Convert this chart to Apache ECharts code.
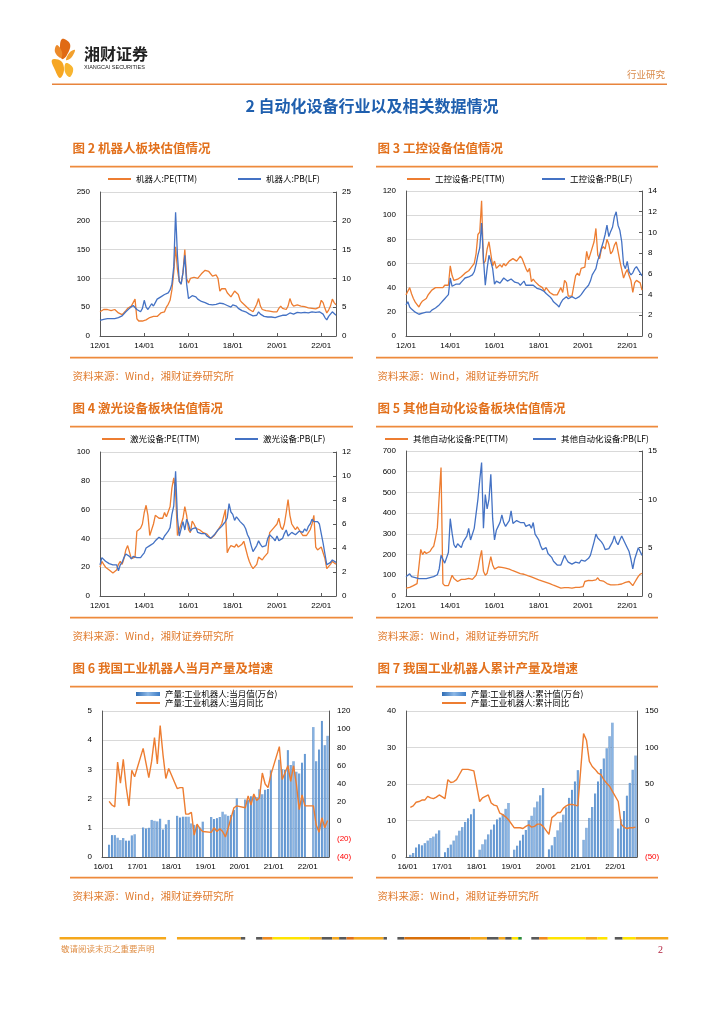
<!DOCTYPE html>
<html><head><meta charset="utf-8">
<script src="https://cdn.jsdelivr.net/npm/echarts/dist/echarts.min.js"></script>
<style>html,body{margin:0;padding:0;background:#fff}#main{width:724px;height:1024px}</style>
</head><body><div id="main"></div>
<script>
// ---------- DATA ----------
// valuation charts: monthly 2012-01 .. 2022-09
const valStart = [2012, 1], valCount = 129;
// production charts: monthly 2016-01 .. 2022-08
const prodStart = [2016, 1], prodCount = 80;

const robotPE = [
42,45,46,45,46,45,44,45,46,45,40,37,
37,38,44,48,50,52,58,64,30,26,25,26,
27,28,30,32,33,34,35,34,37,40,41,42,
50,55,62,80,110,155,115,95,90,110,150,100,
92,100,98,102,105,100,104,108,110,114,112,112,
110,104,102,106,100,78,82,80,82,75,72,68,
70,78,80,72,62,58,55,52,50,46,43,42,
44,55,65,52,46,45,44,43,43,42,42,41,
42,48,52,48,47,46,52,65,56,52,54,54,
53,52,52,51,50,49,48,48,47,47,48,50,
62,58,48,40,45,52,64,58,54];
const robotPB = [
2.7,2.8,2.9,3.0,3.0,3.1,3.0,3.0,3.0,3.1,3.2,3.4,
3.5,3.8,4.2,4.5,4.8,5.0,5.3,5.0,4.6,4.5,4.2,4.8,
6.2,5.0,4.6,4.8,5.6,5.2,5.8,6.4,6.6,6.8,6.6,7.2,
7.2,7.5,8.0,9.0,12.0,21.5,14.0,9.5,9.0,11.0,14.0,9.0,
6.5,6.8,7.0,7.2,6.8,6.4,6.2,6.0,5.9,5.8,5.6,5.5,
5.6,5.4,5.2,5.5,5.6,5.7,5.4,5.6,5.5,5.3,5.2,5.0,
5.4,5.6,5.2,4.8,4.6,4.4,4.3,4.2,4.0,3.8,3.6,3.5,
3.4,3.6,4.2,3.8,3.5,3.4,3.4,3.3,3.3,3.3,3.2,3.2,
3.2,3.4,3.6,3.6,3.5,3.6,3.8,4.0,3.9,3.8,4.0,4.1,
4.1,4.0,4.1,4.1,4.1,4.0,4.1,4.2,4.3,4.1,4.2,4.2,
4.0,3.8,3.2,2.8,3.4,3.8,4.2,4.0,3.6];

const ctrlPE = [
34,37,40,35,31,28,26,24,27,29,30,31,
34,36,38,38,40,41,40,39,40,42,41,42,
58,50,46,45,47,48,49,50,52,53,54,56,
58,60,68,84,86,112,60,62,72,78,78,58,
62,56,55,59,57,60,58,60,62,63,64,63,
62,64,66,64,60,56,53,56,45,47,45,44,
42,41,40,37,40,38,36,37,34,33,34,34,
40,36,46,44,33,33,33,33,50,52,50,56,
55,57,70,63,68,67,78,89,67,64,72,74,
72,80,76,68,70,75,78,70,62,55,48,52,
55,50,46,36,44,46,45,44,38];
const ctrlPB = [
3.0,3.3,2.8,2.6,2.5,2.3,2.2,2.1,2.1,2.2,2.2,2.3,
2.2,2.3,2.5,2.6,2.7,2.8,3.0,3.2,3.4,3.6,3.8,4.0,
5.6,4.8,4.9,5.0,5.1,5.0,5.2,5.4,5.6,5.6,5.7,5.7,
5.9,6.2,6.9,7.8,8.5,10.9,7.5,4.9,6.5,7.8,7.2,6.5,
5.0,5.3,5.4,5.1,5.2,5.6,5.6,5.3,5.4,5.5,5.4,5.2,
5.3,5.1,4.9,5.1,5.3,4.9,5.0,4.9,4.8,4.9,4.8,4.6,
4.6,4.5,4.6,4.3,4.1,4.0,3.8,3.6,3.3,3.2,3.0,2.8,
3.2,3.5,3.6,3.8,3.6,3.6,3.8,3.8,3.6,3.6,3.8,4.0,
4.0,4.5,4.6,4.9,5.3,5.9,6.2,6.5,7.3,7.8,8.5,9.1,
9.8,10.7,9.6,10.1,10.5,11.5,12.0,10.7,10.2,9.1,6.9,6.5,
7.2,6.2,5.9,6.1,6.5,6.7,6.6,6.1,5.8];

const laserPE = [
20,24,22,20,19,18,17,16,16,18,22,24,
22,26,32,35,34,26,26,27,45,44,47,50,
58,63,56,42,46,50,56,57,54,55,54,58,
55,56,62,75,82,72,42,46,50,54,62,56,
46,44,52,50,47,48,46,45,44,44,43,42,
40,41,42,44,46,47,50,55,60,30,33,35,
35,34,36,34,33,36,38,33,28,24,21,19,
19,22,27,26,25,27,28,30,44,45,47,46,
50,54,48,46,50,58,67,56,50,48,46,48,
46,44,42,43,42,44,46,50,56,34,32,33,
34,30,26,19,20,22,24,23,22];
const laserPB = [
2.6,3.2,3.1,2.9,2.8,2.7,2.7,2.6,2.7,2.6,2.1,2.6,
2.8,3.2,3.5,3.5,3.3,3.1,3.3,3.2,3.2,3.1,3.2,3.4,
3.6,4.0,4.1,4.2,4.1,4.4,4.6,4.7,4.9,4.8,4.7,5.0,
5.2,5.4,5.7,6.8,7.5,10.4,6.5,5.0,5.6,6.2,5.5,6.4,
6.0,5.4,5.6,5.5,5.7,5.3,5.4,5.2,5.3,5.2,5.0,4.9,
4.8,4.9,5.1,5.3,5.5,5.6,5.8,6.0,6.2,6.5,7.7,7.0,
6.8,6.3,6.6,6.4,6.2,6.3,5.9,5.6,5.1,4.8,4.2,3.7,
3.8,4.2,4.6,4.3,4.1,4.0,4.2,4.8,5.1,5.0,4.8,4.6,
5.0,4.6,4.5,4.8,5.2,5.5,5.0,4.9,5.3,5.4,5.1,5.2,
5.4,5.5,5.3,5.6,5.4,5.8,6.0,6.4,6.2,6.3,6.2,6.0,
5.2,4.4,3.5,2.6,2.7,2.8,3.0,3.1,2.8];

const otherPE = [
38,40,42,45,50,55,60,62,225,200,215,205,
210,215,230,240,280,330,480,620,60,50,55,50,
75,100,85,80,70,75,80,75,80,75,85,80,
80,90,100,130,180,220,120,100,110,150,190,150,
130,135,140,142,138,140,135,132,130,125,122,120,
115,112,108,110,105,100,98,95,92,90,85,82,
78,75,72,70,66,62,60,58,52,48,45,42,
38,36,40,42,40,38,38,40,42,40,42,42,
45,70,72,75,78,74,80,78,88,75,70,72,
65,60,56,54,52,54,55,55,56,58,60,66,
75,70,62,50,65,80,95,105,110];
const otherPB = [
2.0,2.2,2.3,2.0,2.1,1.9,1.8,1.8,1.7,1.8,1.8,1.8,
1.8,1.9,1.9,2.0,2.0,2.2,2.8,4.2,3.8,3.4,3.3,4.5,
8.0,6.5,5.3,5.0,5.4,5.2,5.0,5.6,5.8,6.2,7.0,5.8,
6.0,7.0,8.5,10.0,12.0,13.8,7.0,10.5,9.0,10.0,12.6,8.0,
5.8,6.8,7.2,7.6,8.4,7.6,7.2,7.4,7.8,8.8,7.5,7.6,
7.8,8.0,7.6,7.4,7.6,7.2,7.0,7.4,7.0,7.6,6.4,6.2,
5.8,5.2,4.8,4.6,5.0,4.4,4.3,4.0,3.6,3.4,3.2,3.2,
3.2,3.4,4.2,3.8,3.5,3.3,3.3,3.2,3.5,3.6,3.4,3.7,
3.8,3.6,3.7,3.9,4.2,4.4,5.6,6.4,6.0,5.8,5.6,5.3,
4.8,4.6,4.9,5.1,5.6,6.2,5.6,5.3,5.8,6.2,5.8,5.6,
5.0,4.6,3.8,2.8,3.8,4.4,5.0,4.9,4.2];

// monthly output (10k units) and yoy (%)
const monthOutput = [
null,null,0.42,0.75,0.75,0.66,0.58,0.65,0.56,0.56,0.74,0.78,
null,null,1.01,0.98,1.00,1.27,1.24,1.22,1.31,0.94,1.12,1.27,
null,null,1.41,1.35,1.38,1.38,1.38,1.15,1.10,1.10,1.01,1.21,
null,null,1.37,1.30,1.33,1.37,1.55,1.46,1.41,1.44,1.61,2.01,
null,null,1.97,1.95,2.08,2.10,2.05,2.32,2.15,2.30,2.33,2.97,
null,null,3.33,3.01,2.98,3.66,3.15,3.28,2.92,2.86,3.23,3.53,
null,null,4.45,3.28,3.68,4.66,3.83,4.15];
const monthYoY = [
null,null,21,17,15,64,41,67,37,16,55,48,
null,null,79,63,47,65,91,62,104,72,46,57,
null,null,35,36,36,7,7,9,-16,-4,-9,-12,
null,null,-13,-8,-12,-9,-12,-18,-8,3,14,16,
null,null,14,27,17,29,22,25,52,40,36,50,
null,null,81,45,52,60,43,60,40,12,28,16,
null,null,16,-5,-13,3,-8,0];
// cumulative output (10k units) and yoy (%)
const cumOutput = [
null,0.6,1.1,2.6,3.5,3.2,3.8,4.5,5.2,5.6,6.4,7.3,
null,1.3,2.5,3.4,4.5,5.9,7.2,8.2,9.6,10.6,11.7,13.2,
null,2.0,3.5,4.8,6.2,7.5,8.9,10.3,10.8,11.8,13.2,14.8,
null,2.0,3.1,4.5,6.1,7.4,10.1,11.3,13.6,15.2,16.9,18.9,
null,2.1,3.2,5.5,7.3,9.5,11.6,13.6,16.2,18.4,20.7,23.8,
null,4.7,8.0,10.7,13.7,17.4,20.7,24.1,27.0,29.8,33.1,36.8,
null,7.8,10.3,12.6,16.8,20.3,23.9,27.8];
const cumYoY = [
null,18,20,25,26,28,28,33,31,30,32,35,
null,30,56,52,53,56,63,70,70,70,69,68,
null,26,31,33,35,24,21,20,10,8,5,1,
null,-10,-10,-10,-11,-8,-6,-9,-8,-5,-5,-8,
null,-19,4,7,11,11,17,20,22,22,21,20,
null,119,110,81,74,70,65,63,56,51,47,40,
null,26,-5,-9,-11,-10,-10,-9];

const names = {
  c2: ['机器人:PE(TTM)', '机器人:PB(LF)'],
  c3: ['工控设备:PE(TTM)', '工控设备:PB(LF)'],
  c4: ['激光设备:PE(TTM)', '激光设备:PB(LF)'],
  c5: ['其他自动化设备:PE(TTM)', '其他自动化设备:PB(LF)'],
  c6: ['产量:工业机器人:当月值(万台)', '产量:工业机器人:当月同比'],
  c7: ['产量:工业机器人:累计值(万台)', '产量:工业机器人:累计同比']
};
const titles = ['图 2 机器人板块估值情况', '图 3 工控设备估值情况', '图 4 激光设备板块估值情况',
  '图 5 其他自动化设备板块估值情况', '图 6 我国工业机器人当月产量及增速', '图 7 我国工业机器人累计产量及增速'];
const sourceText = '资料来源：Wind，湘财证券研究所';

// ---------- BUILD ----------
function months(start, n) {
  const out = []; let y = start[0], m = start[1];
  for (let i = 0; i < n; i++) {
    out.push(y + '-' + (m < 10 ? '0' + m : m));
    m++; if (m > 12) { m = 1; y++; }
  }
  return out;
}
const valMonths = months(valStart, valCount);
const prodMonths = months(prodStart, prodCount);

const ORANGE = '#ED7D31', BLUE = '#4472C4', RULE = '#EE8A3C', TITLE = '#E2711D';
const FONT = "'Liberation Sans','Noto Sans CJK SC',sans-serif";
const CJK = "'Noto Sans CJK SC','Liberation Sans',sans-serif";
const AX = '#595959';

const evenYearJan = (i, v) => v.slice(5) === '01' && (+v.slice(0, 4)) % 2 === 0;
const everyJan = (i, v) => v.slice(5) === '01';
const fmtMonth = v => v.slice(2, 4) + '/01';
const negFmt = v => v < 0 ? '{n|(' + (-v) + ')}' : String(v);

const panels = [
  {grid: {left: 100, top: 192, width: 236, height: 144}, L: [0, 250, 50], R: [0, 25, 5], pe: robotPE, pb: robotPB, nm: names.c2, lg: [[108, 179], [238, 179]]},
  {grid: {left: 406, top: 191, width: 236, height: 145}, L: [0, 120, 20], R: [0, 14, 2], pe: ctrlPE, pb: ctrlPB, nm: names.c3, lg: [[407, 179], [542, 179]]},
  {grid: {left: 100, top: 452, width: 236, height: 144}, L: [0, 100, 20], R: [0, 12, 2], pe: laserPE, pb: laserPB, nm: names.c4, lg: [[102, 439], [235, 439]]},
  {grid: {left: 406, top: 451, width: 236, height: 145}, L: [0, 700, 100], R: [0, 15, 5], pe: otherPE, pb: otherPB, nm: names.c5, lg: [[385, 439], [533, 439]]}
];

const grid = [], xAxis = [], yAxis = [], series = [], legend = [];
const lblStyle = {fontSize: 8, color: '#000', fontFamily: FONT};
const legText = {fontSize: 8.5, color: '#000', fontFamily: CJK, lineHeight: 10};

panels.forEach((p, k) => {
  grid.push(p.grid);
  xAxis.push({gridIndex: k, type: 'category', data: valMonths, boundaryGap: false,
    axisLine: {lineStyle: {color: AX, width: 1}},
    axisTick: {show: true, inside: true, length: 3, interval: evenYearJan, lineStyle: {color: AX}},
    axisLabel: Object.assign({interval: evenYearJan, formatter: fmtMonth, margin: 6}, lblStyle),
    splitLine: {show: false}});
  yAxis.push({gridIndex: k, type: 'value', position: 'left', min: p.L[0], max: p.L[1], interval: p.L[2],
    axisLine: {show: true, lineStyle: {color: AX}}, axisTick: {show: false},
    axisLabel: Object.assign({margin: 10}, lblStyle),
    splitLine: {show: true, lineStyle: {color: '#D9D9D9', width: 1}}});
  yAxis.push({gridIndex: k, type: 'value', position: 'right', min: p.R[0], max: p.R[1], interval: p.R[2],
    axisLine: {show: true, lineStyle: {color: AX}}, axisTick: {show: true, inside: true, length: 3, lineStyle: {color: AX}},
    axisLabel: Object.assign({margin: 6}, lblStyle), splitLine: {show: false}});
  series.push({name: p.nm[0], type: 'line', xAxisIndex: k, yAxisIndex: 2 * k, data: p.pe, symbol: 'none',
    lineStyle: {color: ORANGE, width: 1.3}, itemStyle: {color: ORANGE}, z: 2});
  series.push({name: p.nm[1], type: 'line', xAxisIndex: k, yAxisIndex: 2 * k + 1, data: p.pb, symbol: 'none',
    lineStyle: {color: BLUE, width: 1.3}, itemStyle: {color: BLUE}, z: 3});
  p.lg.forEach((pos, j) => legend.push({data: [p.nm[j]], left: pos[0], top: pos[1] - 5, padding: 0,
    icon: 'rect', itemWidth: 23, itemHeight: 2, itemGap: 0, textStyle: legText}));
});

const barGrad = new echarts.graphic.LinearGradient(0, 0, 1, 0, [
  {offset: 0, color: '#2F6DB5'}, {offset: 0.5, color: '#8DB8E6'}, {offset: 1, color: '#3C7CC6'}]);

const prodPanels = [
  {grid: {left: 102, top: 711, width: 227, height: 146}, L: [0, 5, 1], R: [-40, 120, 20], bar: monthOutput, line: monthYoY, nm: names.c6, lx: 136},
  {grid: {left: 406, top: 711, width: 231, height: 146}, L: [0, 40, 10], R: [-50, 150, 50], bar: cumOutput, line: cumYoY, nm: names.c7, lx: 442}
];
prodPanels.forEach((p, j) => {
  const k = 4 + j;
  grid.push(p.grid);
  xAxis.push({gridIndex: k, type: 'category', data: prodMonths, boundaryGap: true,
    axisLine: {lineStyle: {color: AX, width: 1}},
    axisTick: {show: false},
    axisLabel: Object.assign({interval: everyJan, formatter: fmtMonth, margin: 6}, lblStyle),
    splitLine: {show: false}});
  yAxis.push({gridIndex: k, type: 'value', position: 'left', min: p.L[0], max: p.L[1], interval: p.L[2],
    axisLine: {show: true, lineStyle: {color: AX}}, axisTick: {show: false},
    axisLabel: Object.assign({margin: 10}, lblStyle),
    splitLine: {show: true, lineStyle: {color: '#D9D9D9', width: 1}}});
  yAxis.push({gridIndex: k, type: 'value', position: 'right', min: p.R[0], max: p.R[1], interval: p.R[2],
    axisLine: {show: true, lineStyle: {color: AX}}, axisTick: {show: false},
    axisLabel: Object.assign({margin: 8, formatter: negFmt, rich: {n: {fontSize: 8, color: '#FF0000', fontFamily: FONT}}}, lblStyle),
    splitLine: {show: false}});
  series.push({name: p.nm[0], type: 'bar', xAxisIndex: k, yAxisIndex: 2 * k, data: p.bar, barWidth: '68%',
    itemStyle: {color: barGrad}, z: 2});
  series.push({name: p.nm[1], type: 'line', xAxisIndex: k, yAxisIndex: 2 * k + 1, data: p.line, symbol: 'none',
    connectNulls: true, lineStyle: {color: ORANGE, width: 1.4}, itemStyle: {color: ORANGE}, z: 3});
  legend.push({data: [p.nm[0]], left: p.lx, top: 689, padding: 0, icon: 'rect', itemWidth: 24, itemHeight: 4, textStyle: legText});
  legend.push({data: [p.nm[1]], left: p.lx, top: 698, padding: 0, icon: 'rect', itemWidth: 24, itemHeight: 2, textStyle: legText});
});

// ---------- PAGE DECORATION ----------
const g = [];
const txt = (text, x, y, font, fill, align) => g.push({type: 'text', silent: true,
  style: {text: text, x: x, y: y, font: font, fill: fill, align: align || 'left', verticalAlign: 'middle'}});
const rect = (x, y, w, h, fill) => g.push({type: 'rect', silent: true, shape: {x: x, y: y, width: w, height: h}, style: {fill: fill}});

// logo
const poly = (pts, fill) => g.push({type: 'polygon', silent: true, shape: {points: pts, smooth: 0.4}, style: {fill: fill}});
poly([[62, 39], [70, 44], [67, 55], [62, 59], [60, 50]], '#E06A14');
poly([[57, 45], [62, 52], [61, 58], [55, 52]], '#EC8A2A');
poly([[70, 52], [75, 50], [71, 58], [66, 60]], '#F2A02E');
poly([[52, 60], [61, 61], [64, 70], [60, 78], [55, 70]], '#F6A623');
poly([[66, 63], [73, 68], [70, 77], [65, 72]], '#F8B530');
txt('湘财证券', 84, 54, "bold 16px 'Noto Sans CJK SC'", '#222');
txt('XIANGCAI SECURITIES', 84, 67.5, "5.5px 'Liberation Sans'", '#222');
txt('行业研究', 665, 74, "9.5px 'Noto Sans CJK SC'", '#D98A4A', 'right');
rect(52, 83.5, 615, 1.6, '#E8843C');
txt('2 自动化设备行业以及相关数据情况', 372, 106, "bold 16px 'Noto Sans CJK SC'", '#1F5FAE', 'center');

// panel titles, rules, sources
const colX = [72.5, 377.5], ruleX = [[70, 353], [376, 658]];
const rows = [[148, 166.7, 357.7, 375.7], [408, 426.7, 617.7, 635.7], [668, 686.7, 877.7, 895.7]];
titles.forEach((t, i) => {
  const c = i % 2, r = Math.floor(i / 2);
  txt(t, colX[c], rows[r][0], "bold 12.5px 'Noto Sans CJK SC'", TITLE);
  rect(ruleX[c][0], rows[r][1] - 0.9, ruleX[c][1] - ruleX[c][0], 1.8, RULE);
  rect(ruleX[c][0], rows[r][2] - 0.9, ruleX[c][1] - ruleX[c][0], 1.8, RULE);
  txt(sourceText, colX[c], rows[r][3], "10.5px 'Noto Sans CJK SC'", '#E07B2E');
});

// footer multicolour bar
const fsegs = [[45,290,'#F5A81C'],[315,462,'#F5A81C'],[462,472,'#595959'],[497,512,'#595959'],[512,535,'#F08A1C'],
  [535,620,'#FFE400'],[620,648,'#F5A81C'],[648,672,'#595959'],[672,688,'#F5A81C'],[688,705,'#595959'],[705,722,'#E0701A'],
  [722,790,'#F5A81C'],[790,798,'#595959'],[822,838,'#595959'],[838,990,'#D9700A'],[990,1028,'#F5A81C'],[1028,1055,'#595959'],
  [1055,1070,'#F5A81C'],[1070,1085,'#595959'],[1085,1100,'#FFE400'],[1100,1108,'#2E8B3A'],[1130,1148,'#595959'],
  [1148,1168,'#F08A1C'],[1168,1255,'#FFE400'],[1255,1282,'#F5A81C'],[1282,1305,'#FFE400'],[1322,1340,'#595959'],
  [1340,1370,'#FFE400'],[1370,1445,'#F5A81C']];
fsegs.forEach(s => rect(40 + s[0] / 2.3, 937, (s[1] - s[0]) / 2.3, 2.6, s[2]));
txt('敬请阅读末页之重要声明', 61, 949, "8.5px 'Noto Sans CJK SC'", '#E0914A');
txt('2', 663, 950, "10px 'Liberation Serif'", '#B01E3C', 'right');

const chart = echarts.init(document.getElementById('main'));
chart.setOption({
  backgroundColor: '#fff', animation: false,
  textStyle: {fontFamily: FONT},
  grid: grid, xAxis: xAxis, yAxis: yAxis, series: series, legend: legend, graphic: {elements: g}
});
</script></body></html>
